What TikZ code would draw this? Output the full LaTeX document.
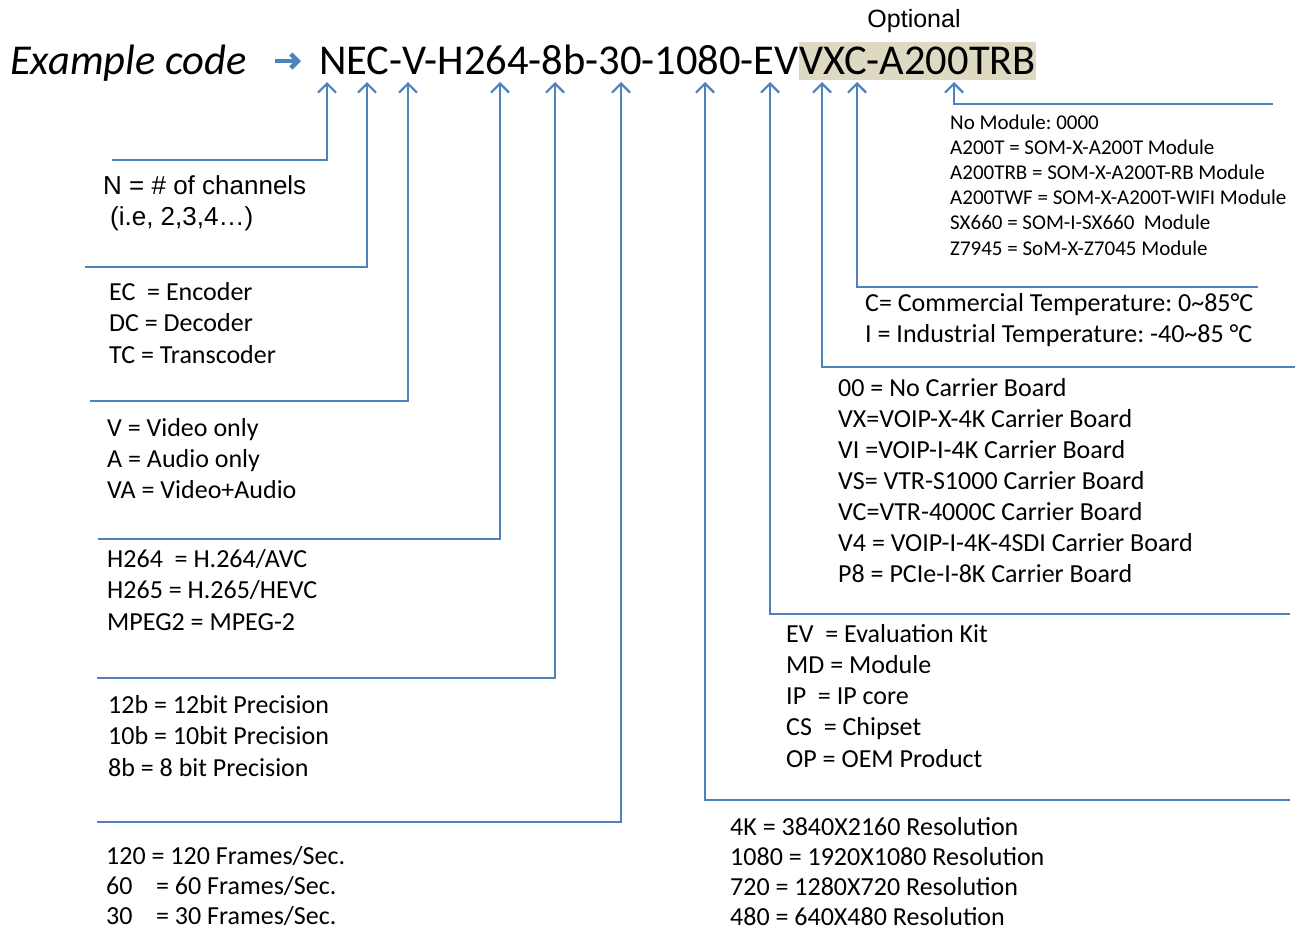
\documentclass[tikz,border=0pt]{standalone}
\usepackage{fontspec}
\setmainfont{Carlito}
\newfontfamily\arialf{Liberation Sans}
\usetikzlibrary{arrows.meta}
\definecolor{lineblue}{HTML}{4F81BD}
\definecolor{hilite}{HTML}{DDD9C3}
\frenchspacing
\tikzset{
  conn/.style={draw=lineblue, line width=2.2pt, -{Straight Barb[length=9pt,width=18pt]}},
  titlearrow/.style={draw=lineblue, line width=4.5pt, -{Straight Barb[length=7pt,width=14pt]}},
  lbl/.style={anchor=base west, inner sep=0pt, font=\fontsize{26pt}{31pt}\selectfont},
  smalllbl/.style={anchor=base west, inner sep=0pt, font=\fontsize{21pt}{25pt}\selectfont},
  arlbl/.style={anchor=base west, inner sep=0pt, font=\arialf\fontsize{26pt}{30pt}\selectfont},
  codetext/.style={anchor=base west, inner sep=0pt, font=\fontsize{42.5pt}{50pt}\selectfont},
}
\begin{document}
\begin{tikzpicture}[x=1pt, y=-1pt]
\fill[white] (0,0) rectangle (1302,930);
\useasboundingbox (0,0) rectangle (1302,930);

% title line
\node[codetext, font=\itshape\fontsize{42.5pt}{50pt}\selectfont] (example) at (10,74) {Example code};
\coordinate (ta1) at (275,61);
\coordinate (ta2) at (301,61);
\draw[titlearrow] (ta1) -- (ta2);
\node[codetext] (code1) at (319,74) {NEC-V-H264-8b-30-1080-EV};
\node[codetext, fill=hilite, text height=32pt, text depth=6pt] (code2) at (code1.base east) {VXC-A200TRB};
\node[anchor=center, inner sep=0pt, font=\arialf\fontsize{25pt}{30pt}\selectfont] (optional) at (914,21) {Optional};

% arrow tips
\coordinate (tN) at (327,82);
\coordinate (tEC) at (367,82);
\coordinate (tV) at (408,82);
\coordinate (tH) at (500,82);
\coordinate (tB) at (555,82);
\coordinate (tF) at (621,82);
\coordinate (tR) at (705,82);
\coordinate (tEV) at (770,82);
\coordinate (tVX) at (822,82);
\coordinate (tC) at (857,82);
\coordinate (tM) at (954,82);

% line ends
\coordinate (eN) at (112,160);
\coordinate (eEC) at (85,267);
\coordinate (eV) at (90,401);
\coordinate (eH) at (98,539);
\coordinate (eB) at (97,678);
\coordinate (eF) at (97,822);
\coordinate (eR) at (1290,800);
\coordinate (eEV) at (1290,614);
\coordinate (eVX) at (1295,367);
\coordinate (eC) at (1258,287);
\coordinate (eM) at (1273,104);

\foreach \n in {N,EC,V,H,B,F,R,EV,VX,C,M}
  \draw[conn] (e\n) -| (t\n);

% N block
\node[arlbl] (n1) at (103,194) {N = \# of channels};
\node[arlbl] (n2) at (110,225) {(i.e, 2,3,4…)};

% EC block
\foreach \t [count=\i from 0] in {{EC\ \ = Encoder},{DC = Decoder},{TC = Transcoder}}
  \node[lbl] (ec\i) at (109,{300+31.5*\i}) {\t};

% V block
\foreach \t [count=\i from 0] in {{V = Video only},{A = Audio only},{VA = Video+Audio}}
  \node[lbl] (v\i) at (107,{436+31*\i}) {\t};

% codec block
\foreach \t [count=\i from 0] in {{H264\ \ = H.264/AVC},{H265 = H.265/HEVC},{MPEG2 = MPEG-2}}
  \node[lbl] (h\i) at (107,{567+31.5*\i}) {\t};

% bit block
\foreach \t [count=\i from 0] in {{12b = 12bit Precision},{10b = 10bit Precision},{8b = 8 bit Precision}}
  \node[lbl] (b\i) at (108,{713+31.5*\i}) {\t};

% frame block
\foreach \t [count=\i from 0] in {{120 = 120 Frames/Sec.},{60\ \ \ \ = 60 Frames/Sec.},{30\ \ \ \ = 30 Frames/Sec.}}
  \node[lbl] (f\i) at (106,{864+30.3*\i}) {\t};

% resolution block
\foreach \t [count=\i from 0] in {{4K = 3840X2160 Resolution},{1080 = 1920X1080 Resolution},{720 = 1280X720 Resolution},{480 = 640X480 Resolution}}
  \node[lbl] (r\i) at (730,{835+30*\i}) {\t};

% product block
\foreach \t [count=\i from 0] in {{EV\ \ = Evaluation Kit},{MD = Module},{IP\ \ = IP core},{CS\ \ = Chipset},{OP = OEM Product}}
  \node[lbl] (ev\i) at (786,{642+31.3*\i}) {\t};

% carrier block
\foreach \t [count=\i from 0] in {{00 = No Carrier Board},{VX=VOIP-X-4K Carrier Board},{VI =VOIP-I-4K Carrier Board},{VS= VTR-S1000 Carrier Board},{VC=VTR-4000C Carrier Board},{V4 = VOIP-I-4K-4SDI Carrier Board},{P8 = PCIe-I-8K Carrier Board}}
  \node[lbl] (vx\i) at (838,{396+31*\i}) {\t};

% temperature block
\node[lbl] (c0) at (865,311) {C= Commercial Temperature: 0\textasciitilde85°C};
\node[lbl] (c1) at (865,342) {I = Industrial Temperature: -40\textasciitilde85 °C};

% module block
\foreach \t [count=\i from 0] in {{No Module: 0000},{A200T = SOM-X-A200T Module},{A200TRB = SOM-X-A200T-RB Module},{A200TWF = SOM-X-A200T-WIFI Module},{SX660 = SOM-I-SX660\ \ Module},{Z7945 = SoM-X-Z7045 Module}}
  \node[smalllbl] (m\i) at (950,{129+25.2*\i}) {\t};
\end{tikzpicture}
\end{document}
